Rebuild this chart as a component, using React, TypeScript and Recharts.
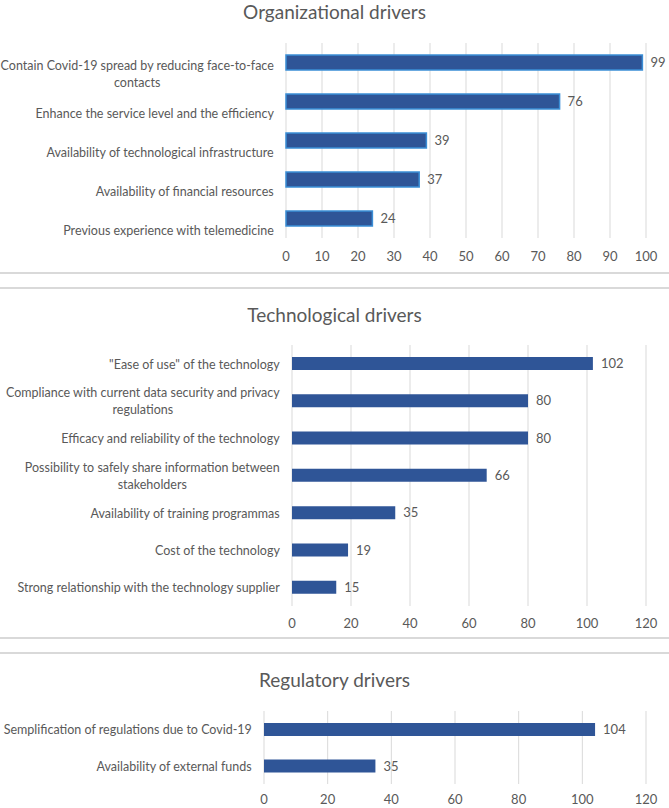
import { BarChart, Bar, XAxis, YAxis, CartesianGrid, LabelList } from 'recharts';

const orgCategories = [
  'Contain Covid-19 spread by reducing face-to-face contacts',
  'Enhance the service level and the efficiency',
  'Availability of technological infrastructure',
  'Availability of financial resources',
  'Previous experience with telemedicine',
];
const orgValues = [99, 76, 39, 37, 24];
const orgTicks = [0, 10, 20, 30, 40, 50, 60, 70, 80, 90, 100];

const techCategories = [
  '"Ease of use" of the technology',
  'Compliance with current data security and privacy regulations',
  'Efficacy and reliability of the technology',
  'Possibility to safely share information between stakeholders',
  'Availability of training programmas',
  'Cost of the technology',
  'Strong relationship with the technology supplier',
];
const techValues = [102, 80, 80, 66, 35, 19, 15];
const techTicks = [0, 20, 40, 60, 80, 100, 120];

const regCategories = [
  'Semplification of regulations due to Covid-19',
  'Availability of external funds',
];
const regValues = [104, 35];
const regTicks = [0, 20, 40, 60, 80, 100, 120];

const FONT = 'Lato, "Open Sans", sans-serif';
const TEXT = '#595959';
const BAR = '#2F5597';
const GRID = '#d9d9d9';
const SIZE = 13;
const CAT_SIZE = 12.5;

let ctx: CanvasRenderingContext2D | null = null;
const measure = (s: string) => {
  if (!ctx) ctx = document.createElement('canvas').getContext('2d');
  if (!ctx) return s.length * 5.8;
  ctx.font = `${CAT_SIZE}px Lato`;
  return ctx.measureText(s).width;
};

// excel-style wrapping, lines centred on each other
const wrap = (s: string, max = 50) => {
  const lines: string[] = [];
  let cur = '';
  s.split(' ').forEach((w) => {
    const next = cur ? cur + ' ' + w : w;
    if (next.length > max && cur) {
      lines.push(cur);
      cur = w;
    } else cur = next;
  });
  lines.push(cur);
  return lines;
};

const CategoryTick = ({ x, y, payload, shift = 0 }: any) => {
  const lines = wrap(payload.value);
  const w = Math.max(...lines.map(measure));
  const cx = x - w / 2;
  const lh = 17;
  const top = y + shift - ((lines.length - 1) * lh) / 2;
  return (
    <text textAnchor="middle" dominantBaseline="central" fill={TEXT} fontSize={CAT_SIZE} fontFamily={FONT}>
      {lines.map((l, i) => (
        <tspan key={i} x={cx} y={top + i * lh}>
          {l}
        </tspan>
      ))}
    </text>
  );
};

const Panel = ({
  title,
  top,
  height,
  titleY,
  categories,
  values,
  ticks,
  plotLeft,
  plotTop,
  plotBottom,
  barSize,
  stroke,
  shift = 0,
  tickGap = 13,
  borderTop,
  borderBottom,
}: any) => {
  const data = categories.map((name: string, i: number) => ({ name, value: values[i] }));
  const axisH = 30;
  return (
    <div
      style={{
        position: 'absolute',
        left: 0,
        top,
        width: 669,
        height,
        borderTop: borderTop ? `2px solid ${GRID}` : undefined,
        borderBottom: borderBottom ? `2px solid ${GRID}` : undefined,
        boxSizing: 'border-box',
      }}
    >
      <div
        style={{
          position: 'absolute',
          left: 0,
          width: 669,
          top: titleY - 12,
          textAlign: 'center',
          fontFamily: FONT,
          fontSize: 19,
          lineHeight: '24px',
          color: TEXT,
        }}
      >
        {title}
      </div>
      <div style={{ position: 'absolute', left: 0, top: 0 }}>
        <BarChart
          width={669}
          height={plotBottom + axisH}
          data={data}
          layout="vertical"
          margin={{ top: plotTop, right: 23, bottom: 0, left: 0 }}
          barCategoryGap={0}
        >
          <CartesianGrid horizontal={false} stroke={GRID} />
          <XAxis
            type="number"
            domain={[ticks[0], ticks[ticks.length - 1]]}
            ticks={ticks}
            interval={0}
            axisLine={false}
            tickLine={false}
            tickSize={0}
            tickMargin={tickGap}
            height={axisH}
            tick={{ fill: TEXT, fontSize: SIZE, fontFamily: FONT }}
          />
          <YAxis
            type="category"
            dataKey="name"
            width={plotLeft}
            interval={0}
            axisLine={false}
            tickLine={false}
            tickSize={0}
            tickMargin={12}
            tick={(p: any) => <CategoryTick {...p} shift={shift} />}
          />
          <Bar
            dataKey="value"
            fill={BAR}
            stroke={stroke}
            strokeWidth={stroke ? 1.5 : 0}
            barSize={barSize}
            isAnimationActive={false}
          >
            <LabelList dataKey="value" position="right" offset={8} fill={TEXT} fontSize={SIZE} fontFamily={FONT} />
          </Bar>
        </BarChart>
      </div>
    </div>
  );
};

const App = () => (
  <div style={{ position: 'absolute', left: 0, top: 0, width: 669, height: 808, background: '#fff', overflow: 'hidden' }}>
    <Panel
      title="Organizational drivers"
      top={0}
      height={274}
      titleY={12}
      categories={orgCategories}
      values={orgValues}
      ticks={orgTicks}
      plotLeft={286}
      plotTop={43}
      plotBottom={238}
      barSize={15}
      stroke="#3B8ED6"
      shift={11}
      tickGap={14}
      borderBottom
    />
    <Panel
      title="Technological drivers"
      top={287}
      height={352}
      titleY={26}
      categories={techCategories}
      values={techValues}
      ticks={techTicks}
      plotLeft={292}
      plotTop={56}
      plotBottom={317}
      barSize={13}
      borderTop
      borderBottom
    />
    <Panel
      title="Regulatory drivers"
      top={652}
      height={156}
      titleY={26}
      categories={regCategories}
      values={regValues}
      ticks={regTicks}
      plotLeft={264}
      plotTop={57}
      plotBottom={130}
      barSize={13}
      tickGap={11}
      borderTop
    />
  </div>
);

export default App;
